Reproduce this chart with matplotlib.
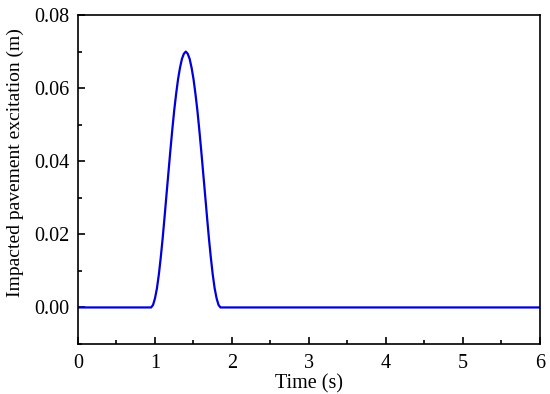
import matplotlib
matplotlib.use("Agg")
import matplotlib.pyplot as plt
from matplotlib.ticker import MultipleLocator, FormatStrFormatter

plt.rcParams["font.family"] = ["Liberation Serif", "DejaVu Serif"]

# rise of the bump (s, m)
time_rise = [0.0, 0.95, 0.975, 1.0, 1.025, 1.05, 1.075, 1.1, 1.125, 1.15,
             1.175, 1.2, 1.225, 1.25, 1.275, 1.3, 1.325, 1.35, 1.375, 1.4]
exc_rise = [0.0, 0.0, 0.0007, 0.0025, 0.0052, 0.009, 0.0137, 0.019, 0.0249,
            0.031, 0.037, 0.043, 0.0487, 0.054, 0.0585, 0.0625, 0.0656,
            0.068, 0.0694, 0.070]
# fall of the bump
time_fall = [1.425, 1.45, 1.475, 1.5, 1.525, 1.55, 1.575, 1.6, 1.625, 1.65,
             1.675, 1.7, 1.725, 1.75, 1.775, 1.8, 1.825, 1.85, 6.0]
exc_fall = [0.0694, 0.068, 0.0656, 0.0625, 0.0585, 0.054, 0.0487, 0.043,
            0.037, 0.031, 0.0249, 0.019, 0.0137, 0.009, 0.0052, 0.0025,
            0.0007, 0.0, 0.0]

time = time_rise + time_fall
excitation = exc_rise + exc_fall

fig = plt.figure(figsize=(5.5, 3.94), dpi=100)
ax = fig.add_axes([0.1418, 0.1269, 0.84, 0.835])
ax.plot(time, excitation, color="#0000dd", lw=1.6)

ax.set_xlim(0, 6)
ax.set_ylim(-0.01, 0.08)
ax.xaxis.set_major_locator(MultipleLocator(1))
ax.xaxis.set_minor_locator(MultipleLocator(0.5))
ax.yaxis.set_major_locator(MultipleLocator(0.02))
ax.yaxis.set_minor_locator(MultipleLocator(0.01))
ax.yaxis.set_major_formatter(FormatStrFormatter("%.2f"))
ax.tick_params(which="both", direction="in", top=False, right=False,
               labelsize=14.5, width=1.2)
ax.tick_params(which="major", length=5)
ax.tick_params(axis="x", which="major", pad=7)
ax.tick_params(axis="y", which="major", pad=6)
ax.tick_params(which="minor", length=3)
for s in ax.spines.values():
    s.set_linewidth(1.2)

ax.set_xlabel("Time (s)", fontsize=14.5, labelpad=1)
ax.set_ylabel("Impacted pavement excitation (m)", fontsize=14)
ax.yaxis.set_label_coords(-0.117, 0.55)

plt.savefig("out.png")
plt.close()
